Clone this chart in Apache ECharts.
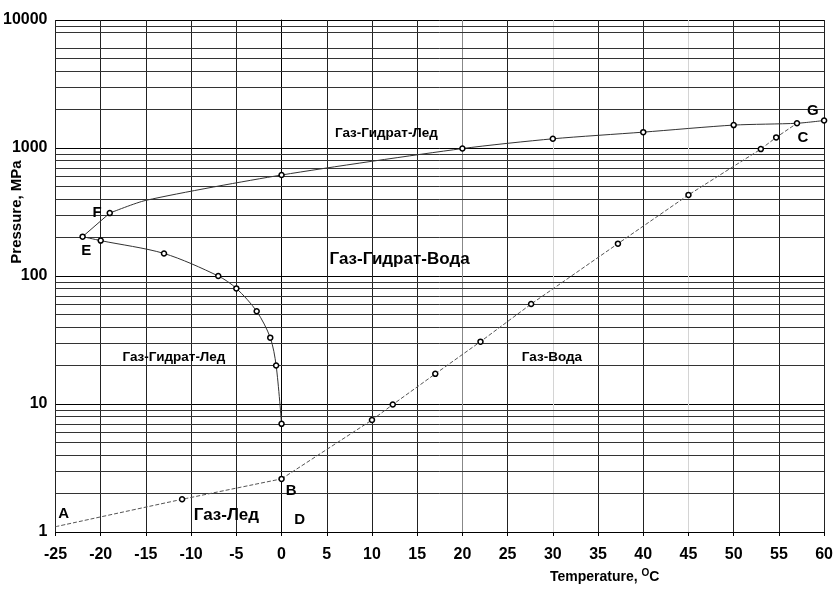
<!DOCTYPE html>
<html>
<head>
<meta charset="utf-8">
<script src="https://cdn.jsdelivr.net/npm/echarts@6/dist/echarts.min.js"></script>
<style>
  html, body { margin: 0; padding: 0; background: #fff; }
  #chart { width: 836px; height: 589px; }
</style>
</head>
<body>
<div id="chart"></div>
<script>
// F -> G : gas-hydrate-ice / gas-hydrate-water upper boundary
const upperT = [-19, -15, 0, 20, 30, 40, 50, 57, 60];
const upperP = [310, 390, 615, 990, 1180, 1330, 1510, 1560, 1640];
const upperMarked = [1, 0, 1, 1, 1, 1, 1, 0, 1];

// F -> E segment
const feT = [-19, -22];
const feP = [310, 203];

// E -> down to 0 C
const branchT = [-22, -20, -13, -7, -5, -2.75, -1.25, -0.6, 0];
const branchP = [203, 189, 150, 100, 80, 53, 33, 20, 7];

// A -> B : gas-ice
const gasIceT = [-25, -11, 0];
const gasIceP = [1.1, 1.8, 2.6];
const gasIceMarked = [0, 1, 1];

// B -> C : gas-water
const gasWaterT = [0, 10, 12.3, 17, 22, 27.6, 37.2, 45, 53, 54.7, 57];
const gasWaterP = [2.6, 7.5, 9.9, 17.2, 30.7, 60.4, 179, 430, 980, 1210, 1560];
const gasWaterMarked = [0, 1, 1, 1, 1, 1, 1, 1, 1, 1, 1];

// minor log grid lines (7000 is missing on the original)
const pressureGrid = [2, 3, 4, 5, 6, 7, 8, 9, 20, 30, 40, 50, 60, 70, 80, 90,
  200, 300, 400, 500, 600, 700, 800, 900, 2000, 3000, 4000, 5000, 6000, 8000, 9000];

// region labels
const smallNames = ['Газ-Гидрат-Лед', 'Газ-Гидрат-Лед', 'Газ-Вода'];
const smallT = [11.6, -11.9, 29.9];
const smallP = [1309, 23.3, 23.3];
const bigNames = ['Газ-Гидрат-Вода', 'Газ-Лед'];
const bigT = [13.05, -6.1];
const bigP = [136, 1.36];

// point letters
const pointNames = ['A', 'B', 'C', 'D', 'E', 'F', 'G'];
const pointT = [-24.1, 1.06, 57.65, 2.0, -21.6, -20.4, 58.75];
const pointP = [1.38, 2.09, 1191, 1.24, 158, 314, 1945];

const FONT = '"Liberation Sans Narrow", "Liberation Sans", Arial, sans-serif';
const FONT_W = '"Liberation Sans", Arial, sans-serif';

function pts(T, P, marked) {
  return T.map((t, i) => ({
    value: [t, P[i]],
    symbol: (marked && !marked[i]) ? 'none' : 'circle'
  }));
}
function labelPts(names, T, P) {
  return names.map((n, i) => ({ name: n, value: [T[i], P[i]] }));
}

const markerStyle = { color: '#fff', borderColor: '#000', borderWidth: 1.5, opacity: 1 };

function curve(data, smooth, lineType, color) {
  return {
    type: 'line',
    data: data,
    smooth: smooth,
    symbol: 'circle',
    symbolSize: 5,
    showSymbol: true,
    lineStyle: { width: 1, color: color, type: lineType },
    itemStyle: markerStyle,
    z: 5
  };
}
function textSeries(data, size, weight) {
  return {
    type: 'scatter',
    data: data,
    symbolSize: 1,
    itemStyle: { color: 'transparent', opacity: 1 },
    label: {
      show: true,
      position: 'inside',
      formatter: '{b}',
      color: '#000',
      fontFamily: FONT,
      fontSize: size,
      fontWeight: weight
    },
    z: 6
  };
}

const vLineColors = [];
for (let t = -25; t <= 60; t += 5) {
  if (t === 30 || t === 45) vLineColors.push('#d4d4d4');
  else if (t === 20) vLineColors.push('#888');
  else vLineColors.push('#222');
}

const chart = echarts.init(document.getElementById('chart'));
chart.setOption({
  animation: false,
  backgroundColor: '#fff',
  grid: { left: 55, right: 8, top: 20, bottom: 57 },
  xAxis: {
    type: 'value',
    min: -25,
    max: 60,
    interval: 5,
    axisLine: { show: true, lineStyle: { color: '#000', width: 1 } },
    axisTick: { show: true, length: 4, lineStyle: { color: '#000' } },
    axisLabel: { color: '#000', fontFamily: FONT, fontWeight: 'bold', fontSize: 16, margin: 15 },
    splitLine: { show: true, lineStyle: { color: vLineColors, width: 1 } }
  },
  yAxis: {
    type: 'log',
    logBase: 10,
    min: 1,
    max: 10000,
    axisLine: { show: true, lineStyle: { color: '#000', width: 1 } },
    axisTick: { show: true, length: 6, lineStyle: { color: '#000' } },
    axisLabel: {
      color: '#000', fontFamily: FONT, fontWeight: 'bold', fontSize: 16, margin: 8,
      formatter: v => String(Math.round(v))
    },
    splitLine: { show: true, lineStyle: { color: '#000', width: 1 } }
  },
  graphic: [
    {
      type: 'text', x: 17, y: 212, rotation: Math.PI / 2,
      style: { text: 'Pressure, MPa', font: 'bold 15px ' + FONT_W, fill: '#000', align: 'center', verticalAlign: 'middle' }
    },
    {
      type: 'text', x: 550, y: 576,
      style: {
        text: '{a|Temperature, }{s|O}{a|C}',
        align: 'left',
        verticalAlign: 'middle',
        rich: {
          a: { fontFamily: FONT, fontWeight: 'bold', fontSize: 14, color: '#000', lineHeight: 16, verticalAlign: 'bottom' },
          s: { fontFamily: FONT, fontWeight: 'bold', fontSize: 10, color: '#000', lineHeight: 10, verticalAlign: 'top' }
        }
      }
    }
  ],
  series: [
    {
      type: 'line',
      data: [],
      z: 1,
      markLine: {
        silent: true,
        symbol: ['none', 'none'],
        label: { show: false },
        lineStyle: { color: '#333', width: 1, type: 'solid' },
        data: pressureGrid.map(v => ({ yAxis: v }))
      }
    },
    curve(pts(upperT, upperP, upperMarked), 0.25, 'solid', '#333'),
    curve(pts(feT, feP, [0, 0]), false, 'solid', '#333'),
    curve(pts(branchT, branchP), 0.3, 'solid', '#333'),
    curve(pts(gasIceT, gasIceP, gasIceMarked), 0.2, [4, 2], '#555'),
    curve(pts(gasWaterT, gasWaterP, gasWaterMarked), false, [4, 2], '#555'),
    textSeries(labelPts(smallNames, smallT, smallP), 13.5, 'bold'),
    textSeries(labelPts(bigNames, bigT, bigP), 17, 'bold'),
    textSeries(labelPts(pointNames, pointT, pointP), 15, 'bold')
  ]
});
</script>
</body>
</html>
